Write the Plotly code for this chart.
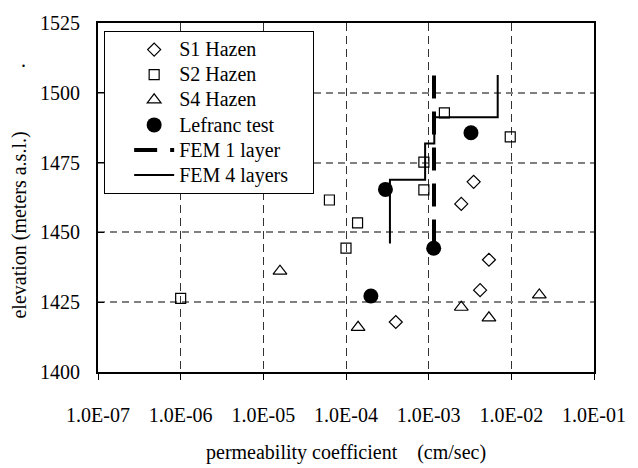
import plotly.graph_objects as go

# ---- data ----
s1_k = [3.5e-3, 2.48e-3, 5.36e-3, 4.19e-3, 4.0e-4]
s1_z = [1468.1, 1460.2, 1440.2, 1429.3, 1417.9]

s2_k = [1.0e-6, 6.3e-5, 1.0e-4, 1.38e-4, 8.75e-4, 8.75e-4, 1.55e-3, 9.7e-3]
s2_z = [1426.4, 1461.6, 1444.4, 1453.4, 1465.2, 1475.2, 1492.8, 1484.2]

s4_k = [1.59e-5, 1.4e-4, 2.48e-3, 5.36e-3, 2.18e-2]
s4_z = [1436.1, 1416.0, 1423.2, 1419.4, 1427.6]

lef_k = [3.25e-3, 3.0e-4, 1.15e-3, 2.0e-4]
lef_z = [1485.7, 1465.4, 1444.3, 1427.2]

fem1_k = [1.16e-3, 1.16e-3]
fem1_z = [1506.2, 1444.3]

fem4_k = [6.84e-3, 6.84e-3, 1.17e-3, 1.17e-3, 9.06e-4, 9.06e-4, 3.4e-4, 3.4e-4]
fem4_z = [1506.4, 1491.2, 1491.2, 1481.8, 1481.8, 1468.9, 1468.9, 1446.0]

series_names = ["S1 Hazen", "S2 Hazen", "S4 Hazen", "Lefranc test", "FEM 1 layer", "FEM 4 layers"]

x_tickvals = [1e-7, 1e-6, 1e-5, 1e-4, 1e-3, 1e-2, 1e-1]
x_ticktext = ["1.0E-07", "1.0E-06", "1.0E-05", "1.0E-04", "1.0E-03", "1.0E-02", "1.0E-01"]
y_tickvals = [1400, 1425, 1450, 1475, 1500, 1525]

FONT = "Liberation Serif, Times New Roman, serif"


def lg(name, pad=0):
    return "<span style='font-size:20px'>" + name + "\u00a0" * pad + "</span>"


fig = go.Figure()

fig.add_trace(go.Scatter(x=fem1_k, y=fem1_z, mode="lines", name=lg(series_names[4]),
                         line=dict(color="black", width=4, dash="23px,13px"), legendrank=5))
fig.add_trace(go.Scatter(x=fem4_k, y=fem4_z, mode="lines", name=lg(series_names[5], 4),
                         line=dict(color="black", width=2), legendrank=6))
fig.add_trace(go.Scatter(x=s1_k, y=s1_z, mode="markers", name=lg(series_names[0]),
                         marker=dict(symbol="diamond-open", size=10, color="black",
                                     line=dict(width=1.2, color="black")), legendrank=1))
fig.add_trace(go.Scatter(x=s2_k, y=s2_z, mode="markers", name=lg(series_names[1]),
                         marker=dict(symbol="square-open", size=10, color="black",
                                     line=dict(width=1.2, color="black")), legendrank=2))
fig.add_trace(go.Scatter(x=s4_k, y=s4_z, mode="markers", name=lg(series_names[2]),
                         marker=dict(symbol="triangle-up-open", size=12, color="black",
                                     line=dict(width=1.2, color="black")), legendrank=3))
fig.add_trace(go.Scatter(x=lef_k, y=lef_z, mode="markers", name=lg(series_names[3]),
                         marker=dict(symbol="circle", size=15, color="black"), legendrank=4))

fig.update_layout(
    width=638, height=468,
    margin=dict(l=98, r=32, t=12, b=96, pad=0),
    paper_bgcolor="white", plot_bgcolor="white",
    font=dict(family=FONT, size=20, color="black"),
    showlegend=True,
    legend=dict(x=0.0124, y=0.977, xanchor="left", yanchor="top",
                bgcolor="white", bordercolor="black", borderwidth=1,
                font=dict(family=FONT, size=17, color="black"),
                tracegroupgap=0, itemwidth=40, indentation=24),
    xaxis=dict(type="log", range=[-7, -1], tickvals=x_tickvals, ticktext=x_ticktext,
               showgrid=True, gridcolor="#333333", gridwidth=1, griddash="8px,5px",
               showline=True, linecolor="black", linewidth=2, mirror=True,
               ticks="outside", ticklen=6, tickcolor="black", tickwidth=1,
               ticklabelstandoff=18, zeroline=False,
               tickfont=dict(family=FONT, size=20, color="black")),
    yaxis=dict(range=[1400, 1525], tickvals=y_tickvals,
               showgrid=True, gridcolor="#808080", gridwidth=1.5, griddash="7px,5px",
               showline=True, linecolor="black", linewidth=2, mirror=True,
               ticks="inside", ticklen=6, tickcolor="black", tickwidth=1,
               ticklabelstandoff=12, zeroline=False,
               tickfont=dict(family=FONT, size=20, color="black")),
    annotations=[
        dict(text="elevation (meters a.s.l.)", xref="paper", yref="paper",
             x=-0.159, y=0.42, xanchor="center", yanchor="middle", textangle=-90,
             showarrow=False, font=dict(family=FONT, size=20, color="black")),
        dict(text="permeability coefficient\u00a0\u00a0\u00a0 (cm/sec)", xref="paper", yref="paper",
             x=0.5, y=-0.231, xanchor="center", yanchor="middle",
             showarrow=False, font=dict(family=FONT, size=20, color="black")),
        dict(text=".", xref="paper", yref="paper",
             x=-0.1496, y=0.894, xanchor="center", yanchor="middle",
             showarrow=False, font=dict(family=FONT, size=20, color="black")),
    ],
)

fig.write_html("out.html")
